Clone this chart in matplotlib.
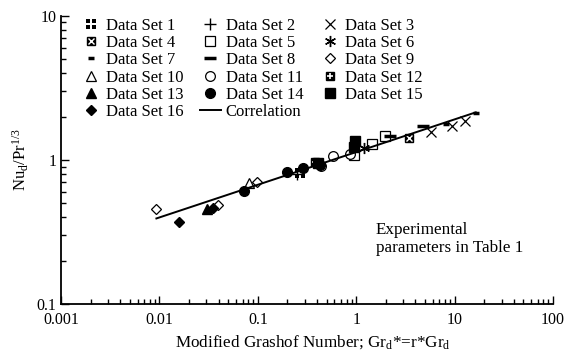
import matplotlib

matplotlib.use("Agg")
import matplotlib.pyplot as plt
from matplotlib.path import Path
from matplotlib.ticker import FuncFormatter, LogLocator, NullFormatter

plt.rcParams["font.family"] = ["Liberation Serif", "DejaVu Serif"]
plt.rcParams["mathtext.fontset"] = "custom"
plt.rcParams["mathtext.rm"] = "Liberation Serif"
plt.rcParams["mathtext.it"] = "Liberation Serif:italic"

# data (Gr_d*, Nu_d/Pr^1/3)
set1_x = [0.27]
set1_y = [0.818]
set2_x = [0.25]
set2_y = [0.80]
set3_x = [5.7, 9.3, 12.9]
set3_y = [1.56, 1.72, 1.87]
set4_x = [3.4]
set4_y = [1.41]
set5_x = [0.95, 1.46, 1.95]
set5_y = [1.09, 1.29, 1.46]
set6_x = [1.2]
set6_y = [1.21]
set7_x = [8.1, 16.6]
set7_y = [1.79, 2.13]
set8_x = [2.2, 4.8]
set8_y = [1.47, 1.72]
set9_x = [0.0092, 0.0394, 0.098]
set9_y = [0.46, 0.49, 0.70]
set10_x = [0.081]
set10_y = [0.69]
set11_x = [0.44, 0.58, 0.86]
set11_y = [0.91, 1.06, 1.10]
set12_x = [0.38]
set12_y = [0.97]
set13_x = [0.0305]
set13_y = [0.455]
set14_x = [0.073, 0.198, 0.288, 0.43]
set14_y = [0.607, 0.83, 0.885, 0.93]
set15_x = [0.41, 0.95, 0.98]
set15_y = [0.96, 1.23, 1.35]
set16_x = [0.0158, 0.035]
set16_y = [0.373, 0.467]
corr_x = [0.0093, 16.4]
corr_y = [0.393, 2.14]

# four small squares marker for data set 1
quad = []
codes = []
for cx, cy in [(-1, -1), (-1, 1), (1, -1), (1, 1)]:
    quad += [(cx - 0.6, cy - 0.6), (cx + 0.6, cy - 0.6), (cx + 0.6, cy + 0.6), (cx - 0.6, cy + 0.6), (0, 0)]
    codes += [Path.MOVETO, Path.LINETO, Path.LINETO, Path.LINETO, Path.CLOSEPOLY]
quad_marker = Path(quad, codes)

fig = plt.figure(figsize=(5.66, 3.52), dpi=100)
ax = fig.add_axes([0.108, 0.136, 0.869, 0.819])

k = dict(linestyle="none", color="black")
open_k = dict(linestyle="none", color="black", markerfacecolor="white", markeredgewidth=0.9)

h1, = ax.plot(set1_x, set1_y, marker=quad_marker, markersize=7, markeredgewidth=0, **k)
h2, = ax.plot(set2_x, set2_y, marker="+", markersize=8, markeredgewidth=1.0, **k)
h3, = ax.plot(set3_x, set3_y, marker="x", markersize=7, markeredgewidth=0.9, **k)
h4a, = ax.plot(set4_x, set4_y, marker="s", markersize=6, **k)
h4b, = ax.plot(set4_x, set4_y, marker="x", markersize=4.5, markeredgewidth=1.0, linestyle="none", color="white")
h5, = ax.plot(set5_x, set5_y, marker="s", markersize=7, **open_k)
h6, = ax.plot(set6_x, set6_y, marker=(6, 2, 0), markersize=8, markeredgewidth=1.0, **k)
h7, = ax.plot(set7_x, set7_y, marker="_", markersize=5, markeredgewidth=2.5, **k)
h8, = ax.plot(set8_x, set8_y, marker="_", markersize=9, markeredgewidth=2.5, **k)
h9, = ax.plot(set9_x, set9_y, marker="D", markersize=5.5, **open_k)
h10, = ax.plot(set10_x, set10_y, marker="^", markersize=7, **open_k)
h11, = ax.plot(set11_x, set11_y, marker="o", markersize=7, **open_k)
h12a, = ax.plot(set12_x, set12_y, marker="s", markersize=6, **k)
h12b, = ax.plot(set12_x, set12_y, marker="+", markersize=4, markeredgewidth=1.2, linestyle="none", color="white")
h13, = ax.plot(set13_x, set13_y, marker="^", markersize=7, **k)
h14, = ax.plot(set14_x, set14_y, marker="o", markersize=7, **k)
h15, = ax.plot(set15_x, set15_y, marker="s", markersize=7, **k)
h16, = ax.plot(set16_x, set16_y, marker="D", markersize=5.5, **k)
hc, = ax.plot(corr_x, corr_y, color="black", linewidth=1.4)

ax.set_xscale("log")
ax.set_yscale("log")
ax.set_xlim(0.001, 100)
ax.set_ylim(0.1, 10)
fmt = FuncFormatter(lambda v, p: f"{v:g}")
ax.xaxis.set_major_formatter(fmt)
ax.yaxis.set_major_formatter(fmt)
ax.xaxis.set_minor_locator(LogLocator(base=10, subs=range(2, 10)))
ax.yaxis.set_minor_locator(LogLocator(base=10, subs=range(2, 10)))
ax.xaxis.set_minor_formatter(NullFormatter())
ax.yaxis.set_minor_formatter(NullFormatter())
ax.tick_params(which="both", direction="in", labelsize=11.5, width=1.0)
ax.tick_params(which="major", length=6)
ax.tick_params(which="minor", length=3.5)
ax.tick_params(axis="x", which="both", pad=6)
for side in ("top", "right"):
    ax.spines[side].set_visible(False)
for side in ("left", "bottom"):
    ax.spines[side].set_linewidth(1.3)

ax.set_xlabel(r"Modified Grashof Number; Gr$_\mathrm{d}$*=r*Gr$_\mathrm{d}$", fontsize=12.3)
ax.xaxis.set_label_coords(0.512, -0.131)
ax.xaxis.label.set_va("center")
ax.set_ylabel(r"Nu$_\mathrm{d}$/Pr$^\mathrm{1/3}$", fontsize=12, labelpad=4)

ax.text(0.64, 0.286, "Experimental\nparameters in Table 1", transform=ax.transAxes,
        fontsize=12.3, ha="left", va="top", linespacing=1.17)

# column-wise order so rows read 1,2,3 / 4,5,6 ...
handles = [h1, (h4a, h4b), h7, h10, h13, h16,
           h2, h5, h8, h11, h14, hc,
           h3, h6, h9, (h12a, h12b), h15]
labels = ["Data Set 1", "Data Set 4", "Data Set 7", "Data Set 10", "Data Set 13", "Data Set 16",
          "Data Set 2", "Data Set 5", "Data Set 8", "Data Set 11", "Data Set 14", "Correlation",
          "Data Set 3", "Data Set 6", "Data Set 9", "Data Set 12", "Data Set 15"]
ax.legend(handles, labels, ncol=3, loc="upper left", bbox_to_anchor=(0.039, 0.994),
          frameon=False, fontsize=12, handlelength=1.25, handletextpad=0.3,
          columnspacing=0.97, labelspacing=0.08, borderaxespad=0, borderpad=0)

fig.savefig("out.png", dpi=100)
